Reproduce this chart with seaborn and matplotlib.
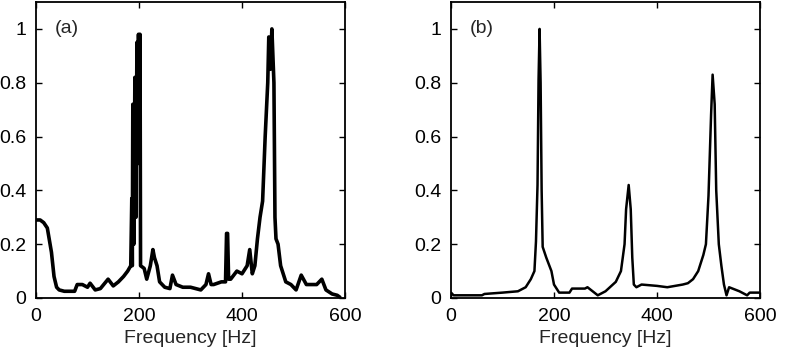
import numpy as np
import pandas as pd
import seaborn as sns
import matplotlib
matplotlib.use("Agg")
import matplotlib.pyplot as plt

# Panel (a) spectrum
freq_a = [0, 8, 15, 22, 30, 35, 40, 45, 55, 65, 75, 80, 90, 100, 105, 115, 125, 140, 150, 160,
          170, 178, 184, 186, 187, 188, 190, 192, 194, 196, 198, 199, 201, 202, 203, 210, 215,
          222, 227, 230, 235, 240, 250, 260, 265, 272, 285, 300, 320, 330, 335, 340, 345, 360,
          368, 370, 372, 374, 378, 390, 400, 410, 415, 420, 425, 430, 435, 440, 445, 450, 452,
          455, 458, 460, 462, 464, 466, 470, 475, 485, 495, 505, 515, 525, 545, 555, 563, 575,
          585, 590]
val_a = [0.29, 0.29, 0.28, 0.26, 0.17, 0.08, 0.04, 0.03, 0.025, 0.025, 0.025, 0.05, 0.05, 0.04,
         0.055, 0.03, 0.035, 0.07, 0.045, 0.06, 0.08, 0.10, 0.12, 0.37, 0.12, 0.72, 0.2, 0.82,
         0.3, 0.95, 0.5, 0.98, 0.6, 0.98, 0.12, 0.11, 0.07, 0.12, 0.18, 0.15, 0.12, 0.06, 0.04,
         0.035, 0.085, 0.05, 0.04, 0.04, 0.03, 0.05, 0.09, 0.05, 0.05, 0.06, 0.06, 0.24, 0.24,
         0.07, 0.07, 0.10, 0.09, 0.12, 0.18, 0.09, 0.12, 0.22, 0.30, 0.36, 0.60, 0.80, 0.97,
         0.85, 1.0, 0.9, 0.8, 0.3, 0.22, 0.2, 0.12, 0.06, 0.05, 0.03, 0.085, 0.05, 0.05, 0.07,
         0.03, 0.015, 0.01, 0.003]

# Panel (b) spectrum
freq_b = [0, 5, 30, 60, 65, 100, 130, 145, 155, 162, 165, 168, 170, 172, 174, 176, 178, 185,
          195, 200, 210, 230, 235, 260, 265, 275, 285, 300, 320, 330, 337, 340, 345, 349, 352,
          355, 360, 370, 400, 420, 450, 460, 470, 480, 490, 495, 500, 505, 508, 512, 515, 520,
          525, 530, 535, 540, 560, 575, 580, 600]
val_b = [0.02, 0.01, 0.01, 0.01, 0.015, 0.02, 0.025, 0.04, 0.07, 0.10, 0.21, 0.42, 0.81, 1.0,
         0.8, 0.4, 0.19, 0.15, 0.10, 0.05, 0.02, 0.02, 0.035, 0.035, 0.04, 0.025, 0.01, 0.025,
         0.06, 0.10, 0.20, 0.33, 0.42, 0.33, 0.15, 0.05, 0.04, 0.05, 0.045, 0.04, 0.05, 0.055,
         0.07, 0.10, 0.16, 0.20, 0.38, 0.68, 0.83, 0.72, 0.40, 0.20, 0.12, 0.05, 0.01, 0.04,
         0.025, 0.01, 0.02, 0.02]

x_ticks = [0, 200, 400, 600]
y_ticks = [0, 0.2, 0.4, 0.6, 0.8, 1.0]
y_tick_labels = ["0", "0.2", "0.4", "0.6", "0.8", "1"]
panel_labels = ["(a)", "(b)"]
x_label = "Frequency [Hz]"

sns.set_style("ticks")
plt.rcParams["font.family"] = ["Liberation Sans", "DejaVu Sans"]

fig = plt.figure(figsize=(7.93, 3.53), dpi=100)
ax_a = fig.add_axes([36 / 793, 55 / 353, 309 / 793, 296 / 353])
ax_b = fig.add_axes([451 / 793, 55 / 353, 309 / 793, 296 / 353])

df_a = pd.DataFrame({"f": freq_a, "v": val_a})
df_b = pd.DataFrame({"f": freq_b, "v": val_b})

sns.lineplot(data=df_a, x="f", y="v", ax=ax_a, color="black", linewidth=2.6, estimator=None, sort=False)
sns.lineplot(data=df_b, x="f", y="v", ax=ax_b, color="black", linewidth=1.8, estimator=None, sort=False)

for ax, lab in zip([ax_a, ax_b], panel_labels):
    ax.set_xlim(0, 600)
    ax.set_ylim(0, 1.1)
    ax.set_xticks(x_ticks)
    ax.set_yticks(y_ticks)
    ax.set_yticklabels(y_tick_labels)
    ax.set_xlabel(x_label, fontsize=14, labelpad=4)
    ax.set_ylabel("")
    ax.tick_params(direction="in", length=4, width=1, top=True, right=True,
                   labelsize=14, pad=7, colors="black")
    for s in ax.spines.values():
        s.set_visible(True)
        s.set_linewidth(1.3)
        s.set_color("black")
    ax.text(36, 1.0, lab, fontsize=14, va="center", ha="left")

fig.savefig("out.png", dpi=100, facecolor="white")
